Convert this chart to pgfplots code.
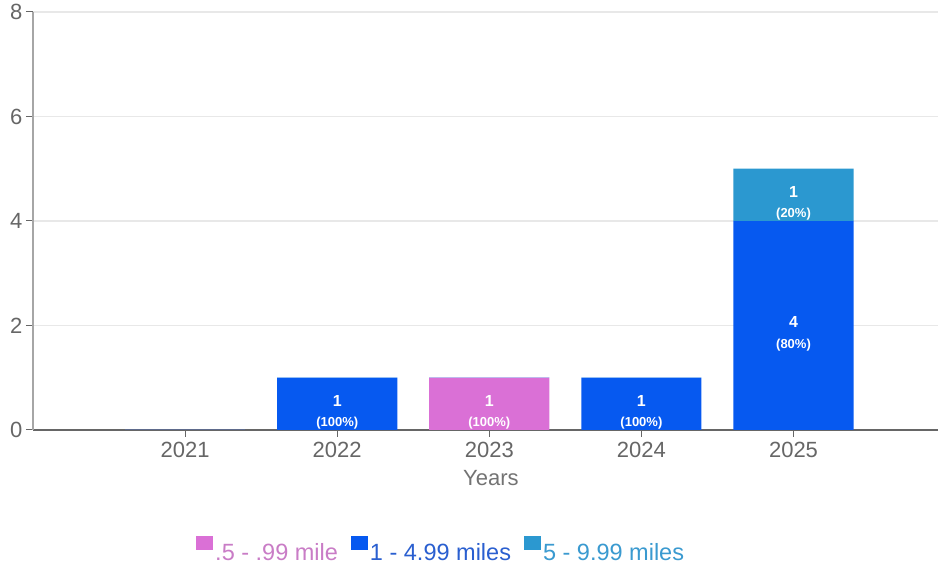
\documentclass[border=0pt]{standalone}
\usepackage{pgfplots}
\pgfplotsset{compat=1.18}
\usepackage{fontspec}
\setmainfont{Liberation Sans}
\definecolor{cpink}{HTML}{DA70D6}
\definecolor{cblue}{HTML}{0659F0}
\definecolor{ccyan}{HTML}{2B98D0}
\definecolor{tpink}{HTML}{C97CC6}
\definecolor{tblue}{HTML}{2A5FD0}
\definecolor{tcyan}{HTML}{3A9AD0}
\definecolor{tickgray}{HTML}{666666}
\definecolor{gridgray}{HTML}{E8E8E8}
\begin{document}
\begin{tikzpicture}
\begin{axis}[
  scale only axis, width=905pt, height=418pt,
  xmin=-1, xmax=4.95, ymin=0, ymax=8,
  ybar, bar width=0.79, bar shift=0pt,
  axis x line*=bottom, axis y line*=left,
  x axis line style={draw=tickgray, line width=1.1pt},
  y axis line style={draw=gray!70, line width=1.4pt},
  xtick={0,1,2,3,4}, xticklabels={2021,2022,2023,2024,2025},
  ytick={0,2,4,6,8},
  ymajorgrids, grid style={draw=gridgray, line width=1.2pt},
  tick align=outside, major tick length=7pt,
  every tick/.style={draw=tickgray, line width=1pt},
  /pgf/number format/assume math mode=true,
  tick label style={font=\fontsize{22pt}{25pt}\selectfont, text=tickgray},
  xticklabel style={yshift=-2pt},
  xlabel={Years},
  x label style={at={(axis description cs:0.506,0)}, anchor=center, yshift=-48pt,
    font=\fontsize{22pt}{25pt}\selectfont, text=gray!90!black},
  legend columns=3,
  legend style={at={(axis description cs:0.451,-0.287)}, anchor=center, draw=none,
    font=\fontsize{23.5pt}{26pt}\selectfont,
    /tikz/every even column/.append style={column sep=11pt},
    nodes={inner sep=2pt}},
  legend image code/.code={\fill[#1, draw=none] (0pt,3pt) rectangle (17pt,17pt);},
]
\addplot[stack plots=y, fill=cpink, draw=none] coordinates {(0,0) (1,0) (2,1) (3,0) (4,0)};
\addplot[stack plots=y, fill=cblue, draw=none] coordinates {(0,0) (1,1) (2,0) (3,1) (4,4)};
\addplot[stack plots=y, fill=ccyan, draw=none] coordinates {(0,0) (1,0) (2,0) (3,0) (4,1)};
\legend{\textcolor{tpink}{.5 - .99 mile},\textcolor{tblue}{1 - 4.99 miles},\textcolor{tcyan}{5 - 9.99 miles}}
% value labels (segment centres)
\addplot[forget plot, sharp plot, draw=none, mark=none, point meta=explicit symbolic,
  nodes near coords, nodes near coords style={anchor=center, yshift=3pt, text=white,
  font=\fontsize{16pt}{16pt}\selectfont\bfseries}]
  coordinates {(1,0.5) [1] (2,0.5) [1] (3,0.5) [1] (4,2) [4] (4,4.5) [1]};
\addplot[forget plot, sharp plot, draw=none, mark=none, point meta=explicit symbolic,
  nodes near coords, nodes near coords style={anchor=center, yshift=-19.5pt, text=white,
  font=\fontsize{13pt}{13pt}\selectfont\bfseries}]
  coordinates {(1,0.5) [(100\%)] (2,0.5) [(100\%)] (3,0.5) [(100\%)] (4,2) [(80\%)] (4,4.5) [(20\%)]};
\coordinate (bl) at (rel axis cs:0,0);
\coordinate (tr) at (rel axis cs:1,1);
\end{axis}
\pgfresetboundingbox
\path ([xshift=-33pt,yshift=-135pt]bl) rectangle ([yshift=12pt]tr);
\end{tikzpicture}
\end{document}
